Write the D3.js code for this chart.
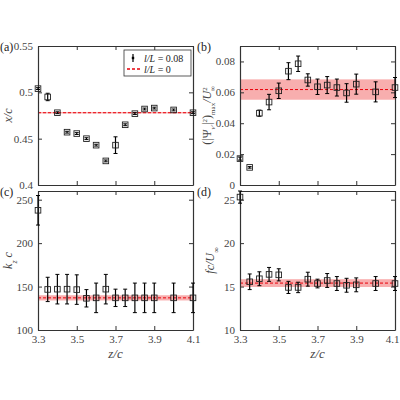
<!DOCTYPE html>
<html><head><meta charset="utf-8">
<script src="https://cdn.jsdelivr.net/npm/d3@7"></script>
<style>body{margin:0;background:#fff}svg text{font-family:"Liberation Serif","DejaVu Serif","Times New Roman",serif !important}</style>
</head><body><svg id="chart" width="400" height="400"></svg>
<script>
const zc = [3.3, 3.35, 3.4, 3.45, 3.5, 3.55, 3.6, 3.65, 3.7, 3.75, 3.8, 3.85, 3.9, 4.0, 4.1];
const xTicks = [3.3, 3.5, 3.7, 3.9, 4.1];
const xcVal = [0.504, 0.495, 0.478, 0.457, 0.4555, 0.450, 0.443, 0.426, 0.443, 0.465, 0.477, 0.482, 0.483, 0.481, 0.478];
const xcErr = [0.001, 0.004, 0.001, 0.001, 0.001, 0.001, 0.001, 0.001, 0.009, 0.001, 0.001, 0.001, 0.001, 0.001, 0.001];
const psiVal = [0.0171, 0.0114, 0.0465, 0.0537, 0.061, 0.0737, 0.0785, 0.068, 0.0636, 0.0647, 0.0631, 0.0596, 0.0653, 0.0603, 0.0631];
const psiErr = [0.001, 0.0005, 0.002, 0.005, 0.005, 0.0055, 0.005, 0.004, 0.005, 0.0055, 0.0055, 0.006, 0.0065, 0.0065, 0.0065];
const kVal = [237.8, 146.7, 147, 147, 146.5, 136.5, 137, 147, 137, 137, 137, 137, 137, 137, 137];
const kErr = [17, 14, 17, 17, 17, 10, 17, 17, 10, 10, 17, 17, 17, 17, 17];
const fVal = [25.3, 15.55, 15.9, 16.4, 16.35, 14.9, 14.9, 15.85, 15.35, 15.7, 15.35, 15.15, 15.2, 15.35, 15.35];
const fErr = [0.7, 0.9, 0.8, 0.8, 0.7, 0.7, 0.6, 0.8, 0.5, 0.8, 0.8, 0.8, 0.8, 0.8, 0.8];

const panels = [
  { id: "(a)", x0: 38, y0: 46, dom: [0.4, 0.55], ticks: [0.4, 0.45, 0.5, 0.55], fmt: d => String(d), val: xcVal, err: xcErr, ref: 0.478, band: 0.0008, xlab: false, ylab: "x/c" },
  { id: "(b)", x0: 240, y0: 46, dom: [0, 0.09], ticks: [0, 0.02, 0.04, 0.06, 0.08], fmt: d => d === 0 ? "0" : d.toFixed(2), val: psiVal, err: psiErr, ref: 0.0618, band: 0.0066, xlab: false, ylab: "psi" },
  { id: "(c)", x0: 38, y0: 191, dom: [100, 260], ticks: [100, 150, 200, 250], fmt: d => String(d), val: kVal, err: kErr, ref: 137, band: 3, xlab: true, ylab: "k" },
  { id: "(d)", x0: 240, y0: 191, dom: [10, 26], ticks: [10, 15, 20, 25], fmt: d => String(d), val: fVal, err: fErr, ref: 15.4, band: 0.45, xlab: true, ylab: "f" },
];
const W = 155, H = 139;
const svg = d3.select("#chart");
const tc = "#444";

panels.forEach(p => {
  const g = svg.append("g").attr("transform", `translate(${p.x0},${p.y0})`);
  const x = d3.scaleLinear().domain([3.3, 4.1]).range([0, W]);
  const y = d3.scaleLinear().domain(p.dom).range([H, 0]);
  g.append("rect").attr("x", 0).attr("width", W)
    .attr("y", y(p.ref + p.band)).attr("height", y(p.ref - p.band) - y(p.ref + p.band))
    .attr("fill", "#f7a0a0").attr("opacity", 0.85);
  g.append("line").attr("x1", 0).attr("x2", W).attr("y1", y(p.ref)).attr("y2", y(p.ref))
    .attr("stroke", "#e8000b").attr("stroke-width", 1).attr("stroke-dasharray", "3,2");
  const fs = 11;
  const ax = [
    [d3.axisBottom(x).tickValues(xTicks).tickSize(-4).tickFormat(p.xlab ? d3.format(".1f") : ""), `translate(0,${H})`],
    [d3.axisTop(x).tickValues(xTicks).tickSize(-4).tickFormat(""), "translate(0,0)"],
    [d3.axisLeft(y).tickValues(p.ticks).tickSize(-4).tickFormat(p.fmt), "translate(0,0)"],
    [d3.axisRight(y).tickValues(p.ticks).tickSize(-4).tickFormat(""), `translate(${W},0)`],
  ];
  ax.forEach(([a, t], k) => {
    const s = g.append("g").attr("transform", t).call(a.tickSizeOuter(0).tickPadding(5));
    s.attr("font-family", null);
    s.select(".domain").attr("stroke", "#333").attr("stroke-width", 1.2);
    s.selectAll("line").attr("stroke", "#333");
    s.selectAll("text").attr("fill", tc).style("font-size", fs + "px");
    if (k === 0 && p.xlab && p.x0 > 100) s.selectAll("text").filter(d => d === 4.1).attr("dx", -3);
  });
  const pts = g.selectAll(".pt").data(zc).enter().append("g");
  pts.append("line").attr("x1", d => x(d)).attr("x2", d => x(d))
    .attr("y1", (d, i) => y(p.val[i] - p.err[i])).attr("y2", (d, i) => y(p.val[i] + p.err[i]))
    .attr("stroke", "#000").attr("stroke-width", 1.2);
  [-1, 1].forEach(s => pts.append("line").attr("x1", d => x(d) - 2).attr("x2", d => x(d) + 2)
    .attr("y1", (d, i) => y(p.val[i] + s * p.err[i])).attr("y2", (d, i) => y(p.val[i] + s * p.err[i]))
    .attr("stroke", "#000").attr("stroke-width", 1));
  pts.append("rect").attr("x", d => x(d) - 2.8).attr("y", (d, i) => y(p.val[i]) - 2.8)
    .attr("width", 5.6).attr("height", 5.6).attr("fill", "none").attr("stroke", "#222").attr("stroke-width", 0.9);
  svg.append("text").attr("y", p.y0 + 5).attr("x", p.x0 < 100 ? 0 : 197)
    .style("font-size", "12px").attr("fill", "#222").text(p.id);
  if (p.xlab) {
    g.append("text").attr("x", W / 2).attr("y", H + 28).attr("text-anchor", "middle")
      .style("font-size", "13px").style("font-style", "italic").attr("fill", tc).text("z/c");
  }
  const yl = g.append("text").attr("transform", `translate(-26,${H / 2}) rotate(-90)`)
    .attr("text-anchor", "middle").style("font-size", "12px").attr("fill", tc);
  if (p.ylab === "x/c") yl.style("font-style", "italic").text("x/c");
  if (p.ylab === "k") { yl.append("tspan").style("font-style", "italic").text("k"); yl.append("tspan").attr("baseline-shift", "sub").style("font-size", "8px").style("font-style", "italic").text("z"); yl.append("tspan").style("font-style", "italic").text(" c"); }
  if (p.ylab === "f") { yl.append("tspan").style("font-style", "italic").text("fc/U"); yl.append("tspan").attr("baseline-shift", "sub").style("font-size", "8px").text("∞"); }
  if (p.ylab === "psi") {
    yl.attr("transform", `translate(-29,${H / 2}) rotate(-90)`);
    yl.append("tspan").text("(|Ψ");
    yl.append("tspan").attr("baseline-shift", "sub").style("font-size", "7px").style("font-style", "italic").text("v′");
    yl.append("tspan").text("|");
    yl.append("tspan").attr("baseline-shift", "super").style("font-size", "7px").text("2");
    yl.append("tspan").text(")");
    yl.append("tspan").attr("baseline-shift", "sub").style("font-size", "7px").text("max");
    yl.append("tspan").style("font-style", "italic").text("/U");
    yl.append("tspan").attr("baseline-shift", "super").style("font-size", "7px").text("2");
    yl.append("tspan").attr("baseline-shift", "sub").style("font-size", "7px").attr("dx", -4).text("∞");
  }
  if (p.id === "(a)") {
    const lg = g.append("g").attr("transform", `translate(86,4)`);
    lg.append("rect").attr("width", 67).attr("height", 26).attr("fill", "#fff").attr("stroke", "#333").attr("stroke-width", 0.8);
    lg.append("line").attr("x1", 9).attr("x2", 9).attr("y1", 4).attr("y2", 12).attr("stroke", "#000").attr("stroke-width", 1.2);
    lg.append("rect").attr("x", 7.8).attr("y", 6.8).attr("width", 2.4).attr("height", 2.4).attr("fill", "#000");
    lg.append("line").attr("x1", 3).attr("x2", 18).attr("y1", 19).attr("y2", 19).attr("stroke", "#e8000b").attr("stroke-width", 1.5).attr("stroke-dasharray", "3,2");
    const t1 = lg.append("text").attr("x", 20).attr("y", 11.5).style("font-size", "10px").attr("fill", "#222");
    t1.append("tspan").style("font-style", "italic").text("l/L"); t1.append("tspan").text(" = 0.08");
    const t2 = lg.append("text").attr("x", 20).attr("y", 22.5).style("font-size", "10px").attr("fill", "#222");
    t2.append("tspan").style("font-style", "italic").text("l/L"); t2.append("tspan").text(" = 0");
  }
});
</script></body></html>
